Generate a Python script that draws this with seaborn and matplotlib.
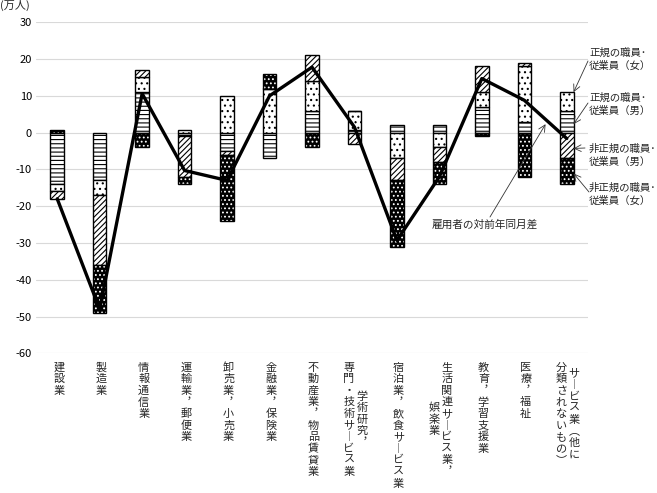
import numpy as np
import matplotlib
matplotlib.use("Agg")
import matplotlib.pyplot as plt
import matplotlib.transforms as mtransforms
import seaborn as sns

# categories (columns split by \n, first column is the right one in vertical writing)
categories = [
    "建設業", "製造業", "情報通信業", "運輸業，郵便業", "卸売業，小売業",
    "金融業，保険業", "不動産業，物品賃貸業", "学術研究，\n専門・技術サービス業",
    "宿泊業，飲食サービス業", "生活関連サービス業，\n娯楽業", "教育，学習支援業",
    "医療，福祉", "サービス業（他に\n分類されないもの）",
]

# 万人
reg_male = [-14, -13, 11, -1, -5, -7, 6, 0.6, 2, 2, 7, 3, 6]
reg_female = [-2, -4, 4, 0.8, 10, 12, 8, 5.3, -7, -4, 4, 15, 5]
nonreg_male = [-2, -19, 2, -11, -1, 0, 7, -3, -6, -4, 7, 1, -7]
nonreg_female = [0.8, -13, -4, -2, -18, 4, -4, 0, -18, -6, -1, -12, -7]
employees_diff = [-18, -48, 10.6, -10.3, -13, 10, 17.8, 1.5, -29.3, -12, 14.7, 8.8, -1.6]

yticks = [-60, -50, -40, -30, -20, -10, 0, 10, 20, 30]

sns.set_theme(style="white")
plt.rcParams["font.family"] = ["Noto Sans CJK JP", "DejaVu Sans"]
plt.rcParams["hatch.linewidth"] = 0.8

fig = plt.figure(figsize=(6.57, 4.93), dpi=100)
ax = fig.add_axes([36 / 657, 139.7 / 493, 552 / 657, 331 / 493])

x = np.arange(len(categories))
w = 0.32

series = [
    (reg_male, "----", "white", "black"),
    (reg_female, "...", "white", "black"),
    (nonreg_male, "//////", "white", "black"),
    (nonreg_female, "....", "black", "white"),
]

pos_base = np.zeros(len(x))
neg_base = np.zeros(len(x))
for vals, hatch, fc, hc in series:
    vals = np.array(vals, dtype=float)
    bottom = np.where(vals >= 0, pos_base, neg_base)
    ax.bar(x, vals, w, bottom=bottom, color=fc, edgecolor=hc, hatch=hatch,
           linewidth=0, zorder=2)
    ax.bar(x, vals, w, bottom=bottom, fill=False, edgecolor="black",
           linewidth=1, zorder=2)
    pos_base = pos_base + np.where(vals >= 0, vals, 0)
    neg_base = neg_base + np.where(vals < 0, vals, 0)

sns.lineplot(x=x, y=employees_diff, color="black", linewidth=2.4, ax=ax,
             zorder=3, sort=False)

ax.set_xlim(-0.5, len(x) - 0.5)
ax.set_ylim(-60, 30)
ax.set_yticks(yticks)
ax.set_yticklabels([str(v) for v in yticks], fontsize=8, color="black")
ax.set_xticks([])
ax.tick_params(axis="y", length=0, pad=3)
ax.yaxis.grid(True, color="#d9d9d9", linewidth=0.8)
ax.set_axisbelow(True)
for s in ax.spines.values():
    s.set_visible(False)

fig.text(0.0, 1.0, "(万人)", fontsize=8, ha="left", va="top")

# vertical x labels, one glyph at a time
vert = {"，": "︐", "（": "︵", "）": "︶", "ー": "︱"}
trans = mtransforms.blended_transform_factory(ax.transData, fig.transFigure)
px = 552 / 13  # pixels per category
step = 11.6
for i, lab in enumerate(categories):
    cols = lab.split("\n")
    n = max(len(c) for c in cols)
    for j, col in enumerate(cols):
        if len(cols) == 1:
            dx = 1.5
        else:
            dx = 7.5 if j == 0 else -5.5
        shift = (n - len(col)) / 2
        for k, ch in enumerate(col):
            y_img = 367.5 + (k + shift) * step
            fig.text(0, 0, vert.get(ch, ch), fontsize=8, ha="center", va="center",
                     transform=trans).set_position((i + dx / px, 1 - y_img / 493))

# annotations (text in figure pixels, arrow heads in data)
def pix(xp, yp):
    return (xp, 493 - yp)

notes = [
    ("正規の職員･\n従業員（女）", 58.8, (588, 61), (12 + w / 2, 11)),
    ("正規の職員･\n従業員（男）", 104.5, (588, 103), (12 + w / 2, 2.3)),
    ("非正規の職員･\n従業員（男）", 155, (585, 148), (12 + w / 2, -4.3)),
    ("非正規の職員･\n従業員（女）", 193.8, (589, 192), (12 + w / 2, -11.1)),
]
for txt, yc, tail, head in notes:
    fig.text(589 / 657, 1 - yc / 493, txt, fontsize=7.5, ha="left", va="center",
             linespacing=1.35)
    ax.annotate("", xy=head, xycoords="data", xytext=pix(*tail),
                textcoords="figure pixels",
                arrowprops=dict(arrowstyle="->", color="#333333", lw=0.6,
                                shrinkA=0, shrinkB=0))

fig.text(432 / 657, 1 - 225 / 493, "雇用者の対前年同月差", fontsize=7.7,
         ha="left", va="center")
ax.annotate("", xy=(11.5, 2.3), xycoords="data", xytext=pix(490, 217),
            textcoords="figure pixels",
            arrowprops=dict(arrowstyle="->", color="#333333", lw=0.6,
                            shrinkA=0, shrinkB=0))

fig.savefig("out.png", dpi=100)
